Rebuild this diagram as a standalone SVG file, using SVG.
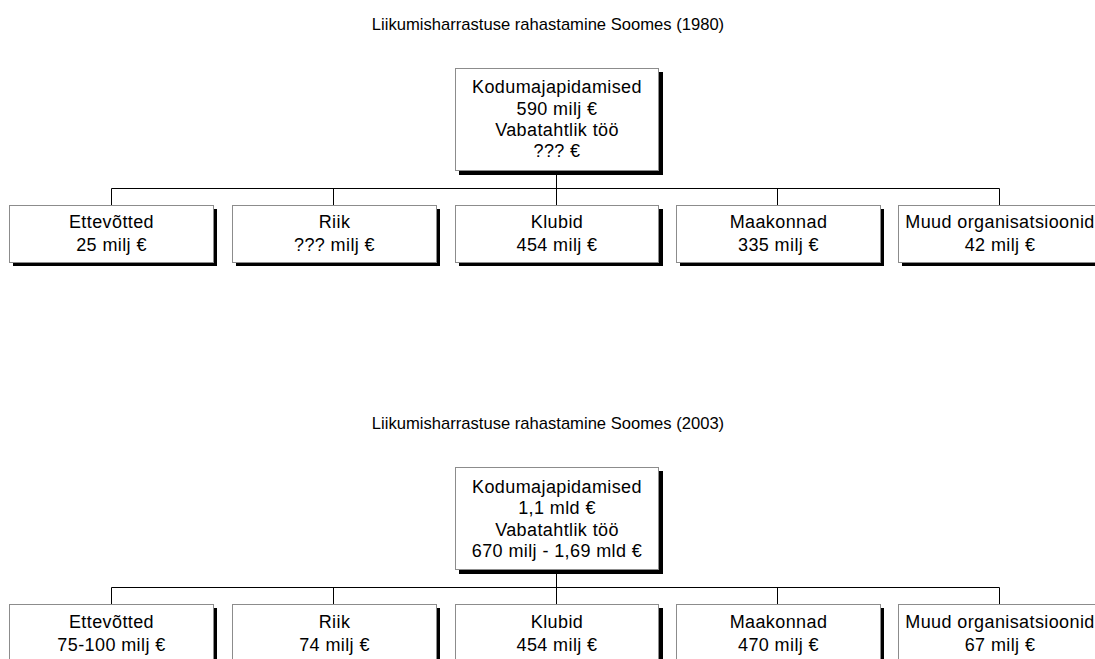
<svg xmlns="http://www.w3.org/2000/svg" width="1095" height="659" viewBox="0 0 1095 659">
<style>
text{font-family:"Liberation Sans",Arial,sans-serif;fill:#000;text-anchor:middle}
.t{font-size:16.6px}
.b{font-size:18px;letter-spacing:0.4px}
.sh{fill:#000}
.bx{fill:#fff;stroke:#8c8c8c;stroke-width:1}
.c{stroke:#000;stroke-width:1;fill:none}
</style>
<rect width="1095" height="659" fill="#fff"/>
<text class="t" x="548" y="30">Liikumisharrastuse rahastamine Soomes (1980)</text>
<text class="t" x="548" y="429">Liikumisharrastuse rahastamine Soomes (2003)</text>
<g id="connectors">
<path class="c" d="M556.5 170 V188.5 M111.5 188.5 H999.5 M111.5 188.5 V205 M333.5 188.5 V205 M556.5 188.5 V205 M777.5 188.5 V205 M999.5 188.5 V205"/>
<path class="c" d="M556.5 569 V587.5 M111.5 587.5 H999.5 M111.5 587.5 V604 M333.5 587.5 V604 M556.5 587.5 V604 M777.5 587.5 V604 M999.5 587.5 V604"/>
</g>
<g id="n1980-top">
<rect class="sh" x="459" y="72" width="204" height="103"/>
<rect class="bx" x="455.5" y="68.5" width="203" height="102"/>
<text class="b" x="557" y="93">Kodumajapidamised</text>
<text class="b" x="557" y="115">590 milj €</text>
<text class="b" x="557" y="136">Vabatahtlik töö</text>
<text class="b" x="557" y="157">??? €</text>
</g>
<g id="n1980-ettevotted">
<rect class="sh" x="13" y="209" width="204" height="57"/>
<rect class="bx" x="9.5" y="205.5" width="204" height="57"/>
<text class="b" x="111.5" y="228">Ettevõtted</text>
<text class="b" x="111.5" y="251">25 milj €</text>
</g>
<g id="n1980-riik">
<rect class="sh" x="236" y="209" width="204" height="57"/>
<rect class="bx" x="232.5" y="205.5" width="204" height="57"/>
<text class="b" x="334.5" y="228">Riik</text>
<text class="b" x="334.5" y="251">??? milj €</text>
</g>
<g id="n1980-klubid">
<rect class="sh" x="459" y="209" width="204" height="57"/>
<rect class="bx" x="455.5" y="205.5" width="203" height="57"/>
<text class="b" x="557" y="228">Klubid</text>
<text class="b" x="557" y="251">454 milj €</text>
</g>
<g id="n1980-maakonnad">
<rect class="sh" x="680" y="209" width="204" height="57"/>
<rect class="bx" x="676.5" y="205.5" width="204" height="57"/>
<text class="b" x="778.5" y="228">Maakonnad</text>
<text class="b" x="778.5" y="251">335 milj €</text>
</g>
<g id="n1980-muud">
<rect class="sh" x="902" y="209" width="204" height="57"/>
<rect class="bx" x="898.5" y="205.5" width="204" height="57"/>
<text class="b" x="1000" y="228">Muud organisatsioonid</text>
<text class="b" x="1000" y="251">42 milj €</text>
</g>
<g id="n2003-top">
<rect class="sh" x="459" y="471" width="204" height="103"/>
<rect class="bx" x="455.5" y="467.5" width="203" height="102"/>
<text class="b" x="557" y="493">Kodumajapidamised</text>
<text class="b" x="557" y="514">1,1 mld €</text>
<text class="b" x="557" y="536">Vabatahtlik töö</text>
<text class="b" x="557" y="557">670 milj - 1,69 mld €</text>
</g>
<g id="n2003-ettevotted">
<rect class="sh" x="13" y="608" width="204" height="57"/>
<rect class="bx" x="9.5" y="604.5" width="204" height="57"/>
<text class="b" x="111.5" y="628">Ettevõtted</text>
<text class="b" x="111.5" y="651">75-100 milj €</text>
</g>
<g id="n2003-riik">
<rect class="sh" x="236" y="608" width="204" height="57"/>
<rect class="bx" x="232.5" y="604.5" width="204" height="57"/>
<text class="b" x="334.5" y="628">Riik</text>
<text class="b" x="334.5" y="651">74 milj €</text>
</g>
<g id="n2003-klubid">
<rect class="sh" x="459" y="608" width="204" height="57"/>
<rect class="bx" x="455.5" y="604.5" width="203" height="57"/>
<text class="b" x="557" y="628">Klubid</text>
<text class="b" x="557" y="651">454 milj €</text>
</g>
<g id="n2003-maakonnad">
<rect class="sh" x="680" y="608" width="204" height="57"/>
<rect class="bx" x="676.5" y="604.5" width="204" height="57"/>
<text class="b" x="778.5" y="628">Maakonnad</text>
<text class="b" x="778.5" y="651">470 milj €</text>
</g>
<g id="n2003-muud">
<rect class="sh" x="902" y="608" width="204" height="57"/>
<rect class="bx" x="898.5" y="604.5" width="204" height="57"/>
<text class="b" x="1000" y="628">Muud organisatsioonid</text>
<text class="b" x="1000" y="651">67 milj €</text>
</g>
</svg>
